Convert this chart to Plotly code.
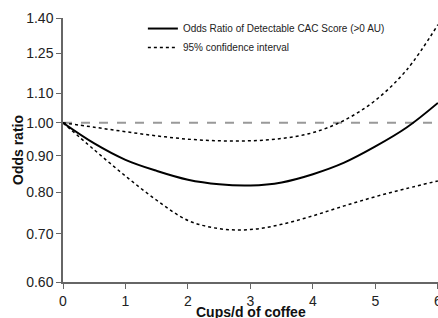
import plotly.graph_objects as go

cups = [0, 0.5, 1, 1.5, 2, 2.5, 3, 3.5, 4, 4.5, 5, 5.5, 6]
odds_ratio = [1.0, 0.936, 0.888, 0.857, 0.833, 0.821, 0.818, 0.826, 0.848, 0.880, 0.927, 0.985, 1.066]
ci_upper = [1.0, 0.986, 0.972, 0.959, 0.949, 0.944, 0.944, 0.951, 0.969, 1.008, 1.075, 1.185, 1.37]
ci_lower = [1.0, 0.917, 0.843, 0.780, 0.731, 0.712, 0.710, 0.722, 0.742, 0.766, 0.789, 0.810, 0.830]
ref_x = [0, 6]
ref_y = [1.0, 1.0]
y_ticks = [0.60, 0.70, 0.80, 0.90, 1.00, 1.10, 1.25, 1.40]
y_tick_labels = ["0.60", "0.70", "0.80", "0.90", "1.00", "1.10", "1.25", "1.40"]
x_ticks = [0, 1, 2, 3, 4, 5, 6]

FONT = "Arial, 'Liberation Sans', sans-serif"

fig = go.Figure()
fig.add_trace(go.Scatter(x=ref_x, y=ref_y, mode="lines", showlegend=False,
                         line=dict(color="#999999", width=2, dash="dash"), hoverinfo="skip"))
fig.add_trace(go.Scatter(x=cups, y=odds_ratio, mode="lines", name="Odds Ratio of Detectable CAC Score (>0 AU)",
                         line=dict(color="black", width=2, shape="spline")))
fig.add_trace(go.Scatter(x=cups, y=ci_upper, mode="lines", name="95% confidence interval",
                         line=dict(color="black", width=1.5, dash="dot", shape="spline")))
fig.add_trace(go.Scatter(x=cups, y=ci_lower, mode="lines", showlegend=False,
                         line=dict(color="black", width=1.5, dash="dot", shape="spline")))

fig.update_layout(
    width=438, height=318,
    margin=dict(l=63, r=0, t=18, b=36),
    plot_bgcolor="white", paper_bgcolor="white",
    font=dict(family=FONT, color="#222222", size=14),
    showlegend=True,
    legend=dict(x=0.213, y=1.015, xanchor="left", yanchor="top",
                font=dict(size=10, color="#222222"), bgcolor="rgba(0,0,0,0)",
                itemwidth=30, tracegroupgap=0),
    xaxis=dict(range=[0, 6.002], tickvals=x_ticks, showgrid=False, zeroline=False,
               showline=True, linecolor="#666666", linewidth=1.5, ticks="outside",
               ticklen=5, tickcolor="#666666", tickfont=dict(size=14),
               ticklabeloverflow="allow", automargin=False),
    yaxis=dict(type="log", range=[-0.2218487, 0.1461280], tickvals=y_ticks, ticktext=y_tick_labels,
               showgrid=False, zeroline=False, showline=True, linecolor="#666666", linewidth=1.5,
               ticks="outside", ticklen=5, tickcolor="#666666", tickfont=dict(size=14),
               automargin=False),
    annotations=[
        dict(text="<b>Odds ratio</b>", xref="paper", yref="paper", x=0, y=0.5,
             xanchor="center", yanchor="middle", xshift=-45, textangle=-90,
             showarrow=False, font=dict(size=14, color="#111111")),
        dict(text="<b>Cups/d of coffee</b>", xref="paper", yref="paper", x=0.5, y=0,
             xanchor="center", yanchor="middle", yshift=-29.5,
             showarrow=False, font=dict(size=14, color="#111111")),
    ],
)

fig.write_html("out.html", config={"displayModeBar": False},
               post_script="document.body.style.margin='0';document.body.style.padding='0';document.body.style.overflow='hidden';")
